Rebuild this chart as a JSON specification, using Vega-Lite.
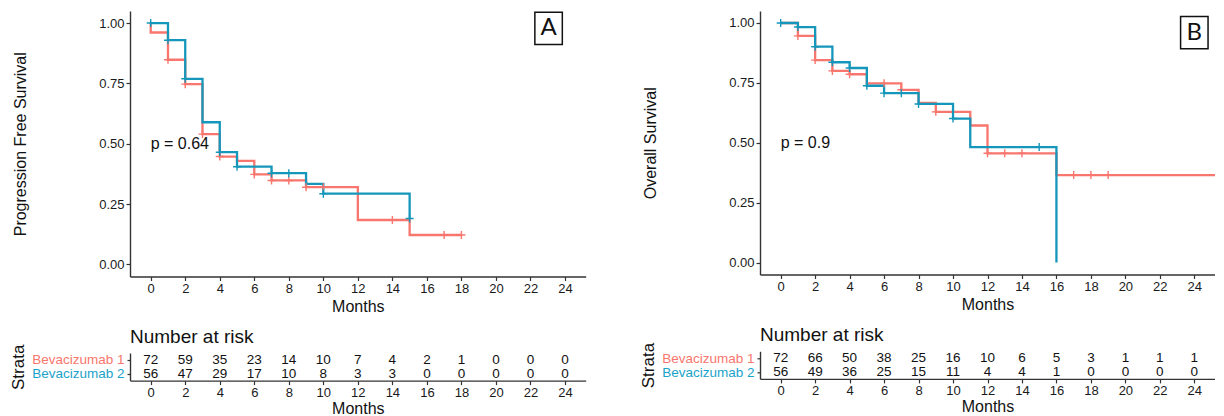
{
  "$schema": "https://vega.github.io/schema/vega-lite/v6.json",
  "padding": {"left": 9, "top": 9, "right": 0, "bottom": 0},
  "config": {
    "view": {"stroke": null},
    "font": "Liberation Sans",
    "axis": {"grid": false, "domainColor": "#333333", "domainWidth": 1.4, "tickColor": "#333333", "tickWidth": 1.2, "tickSize": 4, "labelColor": "#1a1a1a", "labelFontSize": 13, "labelFont": "Liberation Sans", "titleFont": "Liberation Sans", "titleColor": "#111111", "titleFontSize": 16, "titleFontWeight": "normal", "labelPadding": 2, "labelOverlap": false, "labelFlush": false},
    "title": {"font": "Liberation Sans", "fontWeight": "normal", "color": "#111111"}
  },
  "datasets": {
    "kmA": [
      {"g": "Bevacizumab 1", "i": 0, "t": 0, "s": 1.0},
      {"g": "Bevacizumab 1", "i": 1, "t": 0, "s": 0.961},
      {"g": "Bevacizumab 1", "i": 2, "t": 1, "s": 0.848},
      {"g": "Bevacizumab 1", "i": 3, "t": 2, "s": 0.747},
      {"g": "Bevacizumab 1", "i": 4, "t": 3, "s": 0.54},
      {"g": "Bevacizumab 1", "i": 5, "t": 4, "s": 0.447},
      {"g": "Bevacizumab 1", "i": 6, "t": 5, "s": 0.429},
      {"g": "Bevacizumab 1", "i": 7, "t": 6, "s": 0.373},
      {"g": "Bevacizumab 1", "i": 8, "t": 7, "s": 0.348},
      {"g": "Bevacizumab 1", "i": 9, "t": 9, "s": 0.32},
      {"g": "Bevacizumab 1", "i": 10, "t": 12, "s": 0.184},
      {"g": "Bevacizumab 1", "i": 11, "t": 15, "s": 0.122},
      {"g": "Bevacizumab 1", "i": 12, "t": 18, "s": 0.122},
      {"g": "Bevacizumab 2", "i": 0, "t": 0, "s": 1.0},
      {"g": "Bevacizumab 2", "i": 1, "t": 1, "s": 0.929},
      {"g": "Bevacizumab 2", "i": 2, "t": 2, "s": 0.769},
      {"g": "Bevacizumab 2", "i": 3, "t": 3, "s": 0.589},
      {"g": "Bevacizumab 2", "i": 4, "t": 4, "s": 0.465},
      {"g": "Bevacizumab 2", "i": 5, "t": 5, "s": 0.405},
      {"g": "Bevacizumab 2", "i": 6, "t": 7, "s": 0.378},
      {"g": "Bevacizumab 2", "i": 7, "t": 9, "s": 0.334},
      {"g": "Bevacizumab 2", "i": 8, "t": 10, "s": 0.293},
      {"g": "Bevacizumab 2", "i": 9, "t": 15, "s": 0.19}
    ],
    "censA": [
      {"g": "Bevacizumab 1", "t": 1, "s": 0.848},
      {"g": "Bevacizumab 1", "t": 2, "s": 0.747},
      {"g": "Bevacizumab 1", "t": 3, "s": 0.54},
      {"g": "Bevacizumab 1", "t": 4, "s": 0.447},
      {"g": "Bevacizumab 1", "t": 6, "s": 0.373},
      {"g": "Bevacizumab 1", "t": 7, "s": 0.348},
      {"g": "Bevacizumab 1", "t": 8, "s": 0.348},
      {"g": "Bevacizumab 1", "t": 9, "s": 0.32},
      {"g": "Bevacizumab 1", "t": 10, "s": 0.32},
      {"g": "Bevacizumab 1", "t": 14, "s": 0.184},
      {"g": "Bevacizumab 1", "t": 17, "s": 0.122},
      {"g": "Bevacizumab 1", "t": 18, "s": 0.122},
      {"g": "Bevacizumab 2", "t": 0, "s": 1.0},
      {"g": "Bevacizumab 2", "t": 1, "s": 0.929},
      {"g": "Bevacizumab 2", "t": 2, "s": 0.769},
      {"g": "Bevacizumab 2", "t": 4, "s": 0.465},
      {"g": "Bevacizumab 2", "t": 5, "s": 0.405},
      {"g": "Bevacizumab 2", "t": 7, "s": 0.378},
      {"g": "Bevacizumab 2", "t": 8, "s": 0.378},
      {"g": "Bevacizumab 2", "t": 10, "s": 0.293},
      {"g": "Bevacizumab 2", "t": 15, "s": 0.19}
    ],
    "kmB": [
      {"g": "Bevacizumab 1", "i": 0, "t": 0, "s": 1.0},
      {"g": "Bevacizumab 1", "i": 1, "t": 1, "s": 0.946},
      {"g": "Bevacizumab 1", "i": 2, "t": 2, "s": 0.845},
      {"g": "Bevacizumab 1", "i": 3, "t": 3, "s": 0.8},
      {"g": "Bevacizumab 1", "i": 4, "t": 4, "s": 0.786},
      {"g": "Bevacizumab 1", "i": 5, "t": 5, "s": 0.748},
      {"g": "Bevacizumab 1", "i": 6, "t": 7, "s": 0.721},
      {"g": "Bevacizumab 1", "i": 7, "t": 8, "s": 0.666},
      {"g": "Bevacizumab 1", "i": 8, "t": 9, "s": 0.629},
      {"g": "Bevacizumab 1", "i": 9, "t": 11, "s": 0.572},
      {"g": "Bevacizumab 1", "i": 10, "t": 12, "s": 0.456},
      {"g": "Bevacizumab 1", "i": 11, "t": 16, "s": 0.365},
      {"g": "Bevacizumab 1", "i": 12, "t": 26, "s": 0.365},
      {"g": "Bevacizumab 2", "i": 0, "t": 0, "s": 1.0},
      {"g": "Bevacizumab 2", "i": 1, "t": 1, "s": 0.983},
      {"g": "Bevacizumab 2", "i": 2, "t": 2, "s": 0.901},
      {"g": "Bevacizumab 2", "i": 3, "t": 3, "s": 0.836},
      {"g": "Bevacizumab 2", "i": 4, "t": 4, "s": 0.812},
      {"g": "Bevacizumab 2", "i": 5, "t": 5, "s": 0.738},
      {"g": "Bevacizumab 2", "i": 6, "t": 6, "s": 0.707},
      {"g": "Bevacizumab 2", "i": 7, "t": 8, "s": 0.662},
      {"g": "Bevacizumab 2", "i": 8, "t": 10, "s": 0.601},
      {"g": "Bevacizumab 2", "i": 9, "t": 11, "s": 0.482},
      {"g": "Bevacizumab 2", "i": 10, "t": 16, "s": 0.0}
    ],
    "censB": [
      {"g": "Bevacizumab 1", "t": 1, "s": 0.946},
      {"g": "Bevacizumab 1", "t": 2, "s": 0.845},
      {"g": "Bevacizumab 1", "t": 3, "s": 0.8},
      {"g": "Bevacizumab 1", "t": 4, "s": 0.786},
      {"g": "Bevacizumab 1", "t": 6, "s": 0.748},
      {"g": "Bevacizumab 1", "t": 7, "s": 0.721},
      {"g": "Bevacizumab 1", "t": 9, "s": 0.629},
      {"g": "Bevacizumab 1", "t": 12, "s": 0.456},
      {"g": "Bevacizumab 1", "t": 13, "s": 0.456},
      {"g": "Bevacizumab 1", "t": 14, "s": 0.456},
      {"g": "Bevacizumab 1", "t": 17, "s": 0.365},
      {"g": "Bevacizumab 1", "t": 18, "s": 0.365},
      {"g": "Bevacizumab 1", "t": 19, "s": 0.365},
      {"g": "Bevacizumab 2", "t": 0, "s": 1.0},
      {"g": "Bevacizumab 2", "t": 1, "s": 0.983},
      {"g": "Bevacizumab 2", "t": 2, "s": 0.901},
      {"g": "Bevacizumab 2", "t": 3, "s": 0.836},
      {"g": "Bevacizumab 2", "t": 4, "s": 0.812},
      {"g": "Bevacizumab 2", "t": 5, "s": 0.738},
      {"g": "Bevacizumab 2", "t": 6, "s": 0.707},
      {"g": "Bevacizumab 2", "t": 7, "s": 0.707},
      {"g": "Bevacizumab 2", "t": 8, "s": 0.662},
      {"g": "Bevacizumab 2", "t": 10, "s": 0.601},
      {"g": "Bevacizumab 2", "t": 15, "s": 0.482}
    ],
    "noteA": [{"t": 0, "s": 0.5, "label": "p = 0.64"}],
    "noteB": [{"t": 0, "s": 0.5, "label": "p = 0.9"}],
    "tagA": [{"t": 23.05, "s": 0.978, "label": "A"}],
    "tagB": [{"t": 24.0, "s": 0.96, "label": "B"}],
    "riskA": [
      {"g": "Bevacizumab 1", "t": 0, "n": 72}, {"g": "Bevacizumab 1", "t": 2, "n": 59}, {"g": "Bevacizumab 1", "t": 4, "n": 35}, {"g": "Bevacizumab 1", "t": 6, "n": 23}, {"g": "Bevacizumab 1", "t": 8, "n": 14}, {"g": "Bevacizumab 1", "t": 10, "n": 10}, {"g": "Bevacizumab 1", "t": 12, "n": 7}, {"g": "Bevacizumab 1", "t": 14, "n": 4}, {"g": "Bevacizumab 1", "t": 16, "n": 2}, {"g": "Bevacizumab 1", "t": 18, "n": 1}, {"g": "Bevacizumab 1", "t": 20, "n": 0}, {"g": "Bevacizumab 1", "t": 22, "n": 0}, {"g": "Bevacizumab 1", "t": 24, "n": 0},
      {"g": "Bevacizumab 2", "t": 0, "n": 56}, {"g": "Bevacizumab 2", "t": 2, "n": 47}, {"g": "Bevacizumab 2", "t": 4, "n": 29}, {"g": "Bevacizumab 2", "t": 6, "n": 17}, {"g": "Bevacizumab 2", "t": 8, "n": 10}, {"g": "Bevacizumab 2", "t": 10, "n": 8}, {"g": "Bevacizumab 2", "t": 12, "n": 3}, {"g": "Bevacizumab 2", "t": 14, "n": 3}, {"g": "Bevacizumab 2", "t": 16, "n": 0}, {"g": "Bevacizumab 2", "t": 18, "n": 0}, {"g": "Bevacizumab 2", "t": 20, "n": 0}, {"g": "Bevacizumab 2", "t": 22, "n": 0}, {"g": "Bevacizumab 2", "t": 24, "n": 0}
    ],
    "riskB": [
      {"g": "Bevacizumab 1", "t": 0, "n": 72}, {"g": "Bevacizumab 1", "t": 2, "n": 66}, {"g": "Bevacizumab 1", "t": 4, "n": 50}, {"g": "Bevacizumab 1", "t": 6, "n": 38}, {"g": "Bevacizumab 1", "t": 8, "n": 25}, {"g": "Bevacizumab 1", "t": 10, "n": 16}, {"g": "Bevacizumab 1", "t": 12, "n": 10}, {"g": "Bevacizumab 1", "t": 14, "n": 6}, {"g": "Bevacizumab 1", "t": 16, "n": 5}, {"g": "Bevacizumab 1", "t": 18, "n": 3}, {"g": "Bevacizumab 1", "t": 20, "n": 1}, {"g": "Bevacizumab 1", "t": 22, "n": 1}, {"g": "Bevacizumab 1", "t": 24, "n": 1},
      {"g": "Bevacizumab 2", "t": 0, "n": 56}, {"g": "Bevacizumab 2", "t": 2, "n": 49}, {"g": "Bevacizumab 2", "t": 4, "n": 36}, {"g": "Bevacizumab 2", "t": 6, "n": 25}, {"g": "Bevacizumab 2", "t": 8, "n": 15}, {"g": "Bevacizumab 2", "t": 10, "n": 11}, {"g": "Bevacizumab 2", "t": 12, "n": 4}, {"g": "Bevacizumab 2", "t": 14, "n": 4}, {"g": "Bevacizumab 2", "t": 16, "n": 1}, {"g": "Bevacizumab 2", "t": 18, "n": 0}, {"g": "Bevacizumab 2", "t": 20, "n": 0}, {"g": "Bevacizumab 2", "t": 22, "n": 0}, {"g": "Bevacizumab 2", "t": 24, "n": 0}
    ]
  },
  "spacing": 53,
  "hconcat": [
    {
      "spacing": 12,
      "vconcat": [
        {
          "width": 455.7,
          "height": 265.5,
          "encoding": {
            "x": {"field": "t", "type": "quantitative", "scale": {"domain": [-1.2, 25.2], "nice": false, "zero": false}, "axis": {"values": [0, 2, 4, 6, 8, 10, 12, 14, 16, 18, 20, 22, 24], "title": "Months", "titlePadding": 3}},
            "y": {"field": "s", "type": "quantitative", "scale": {"domain": [-0.05, 1.05], "nice": false, "zero": false}, "axis": {"values": [0, 0.25, 0.5, 0.75, 1], "format": ".2f", "title": "Progression Free Survival", "titlePadding": 70}}
          },
          "layer": [
            {"data": {"name": "kmA"}, "mark": {"type": "line", "interpolate": "step-after", "strokeWidth": 2.3, "clip": true}, "encoding": {"color": {"field": "g", "type": "nominal", "scale": {"domain": ["Bevacizumab 1", "Bevacizumab 2"], "range": ["#F8766D", "#1597BB"]}, "legend": null}, "order": {"field": "i", "type": "quantitative"}}},
            {"data": {"name": "censA"}, "mark": {"type": "point", "shape": "M-1,0H1M0,-1V1", "filled": false, "size": 64, "strokeWidth": 1.4, "opacity": 1}, "encoding": {"color": {"field": "g", "type": "nominal", "legend": null}}},
            {"data": {"name": "noteA"}, "mark": {"type": "text", "align": "left", "baseline": "middle", "fontSize": 16, "color": "#111111"}, "encoding": {"text": {"field": "label"}}},
            {"data": {"name": "tagA"}, "mark": {"type": "point", "shape": "M-0.85,-1H0.85V1H-0.85Z", "filled": false, "size": 1043, "strokeWidth": 1.5, "color": "#111111", "opacity": 1}},
            {"data": {"name": "tagA"}, "mark": {"type": "text", "align": "center", "baseline": "middle", "fontSize": 24, "font": "Lato", "color": "#111111"}, "encoding": {"text": {"field": "label"}}}
          ]
        },
        {
          "width": 455.7,
          "height": 27.6,
          "title": {"text": "Number at risk", "anchor": "start", "frame": "group", "fontSize": 19, "offset": -2.8},
          "data": {"name": "riskA"},
          "mark": {"type": "text", "fontSize": 13.5, "color": "#111111", "baseline": "middle"},
          "encoding": {
            "x": {"field": "t", "type": "quantitative", "scale": {"domain": [-1.2, 25.2], "nice": false, "zero": false}, "axis": {"values": [0, 2, 4, 6, 8, 10, 12, 14, 16, 18, 20, 22, 24], "title": "Months", "titlePadding": 1}},
            "y": {"field": "g", "type": "nominal", "sort": ["Bevacizumab 1", "Bevacizumab 2"], "scale": {"type": "point", "padding": 0.5}, "axis": {"title": "Strata", "titleFontSize": 17, "labelFontSize": 13.5, "tickSize": 3, "labelPadding": 3, "titlePadding": 4, "labelColor": {"condition": {"test": "datum.value === 'Bevacizumab 1'", "value": "#F8766D"}, "value": "#1AA3C9"}}},
            "text": {"field": "n", "type": "quantitative"}
          }
        }
      ]
    },
    {
      "spacing": 12.3,
      "vconcat": [
        {
          "width": 455,
          "height": 263.5,
          "encoding": {
            "x": {"field": "t", "type": "quantitative", "scale": {"domain": [-1.2, 25.2], "nice": false, "zero": false}, "axis": {"values": [0, 2, 4, 6, 8, 10, 12, 14, 16, 18, 20, 22, 24], "title": "Months", "titlePadding": 3}},
            "y": {"field": "s", "type": "quantitative", "scale": {"domain": [-0.05, 1.05], "nice": false, "zero": false}, "axis": {"values": [0, 0.25, 0.5, 0.75, 1], "format": ".2f", "title": "Overall Survival", "titlePadding": 70}}
          },
          "layer": [
            {"data": {"name": "kmB"}, "mark": {"type": "line", "interpolate": "step-after", "strokeWidth": 2.3, "clip": true}, "encoding": {"color": {"field": "g", "type": "nominal", "scale": {"domain": ["Bevacizumab 1", "Bevacizumab 2"], "range": ["#F8766D", "#1597BB"]}, "legend": null}, "order": {"field": "i", "type": "quantitative"}}},
            {"data": {"name": "censB"}, "mark": {"type": "point", "shape": "M-1,0H1M0,-1V1", "filled": false, "size": 64, "strokeWidth": 1.4, "opacity": 1}, "encoding": {"color": {"field": "g", "type": "nominal", "legend": null}}},
            {"data": {"name": "noteB"}, "mark": {"type": "text", "align": "left", "baseline": "middle", "fontSize": 16, "color": "#111111"}, "encoding": {"text": {"field": "label"}}},
            {"data": {"name": "tagB"}, "mark": {"type": "point", "shape": "M-0.85,-1H0.85V1H-0.85Z", "filled": false, "size": 1043, "strokeWidth": 1.5, "color": "#111111", "opacity": 1}},
            {"data": {"name": "tagB"}, "mark": {"type": "text", "align": "center", "baseline": "middle", "fontSize": 24, "font": "Lato", "color": "#111111"}, "encoding": {"text": {"field": "label"}}}
          ]
        },
        {
          "width": 455,
          "height": 27.6,
          "title": {"text": "Number at risk", "anchor": "start", "frame": "group", "fontSize": 19, "offset": -2.8},
          "data": {"name": "riskB"},
          "mark": {"type": "text", "fontSize": 13.5, "color": "#111111", "baseline": "middle"},
          "encoding": {
            "x": {"field": "t", "type": "quantitative", "scale": {"domain": [-1.2, 25.2], "nice": false, "zero": false}, "axis": {"values": [0, 2, 4, 6, 8, 10, 12, 14, 16, 18, 20, 22, 24], "title": "Months", "titlePadding": 1}},
            "y": {"field": "g", "type": "nominal", "sort": ["Bevacizumab 1", "Bevacizumab 2"], "scale": {"type": "point", "padding": 0.5}, "axis": {"title": "Strata", "titleFontSize": 17, "labelFontSize": 13.5, "tickSize": 3, "labelPadding": 3, "titlePadding": 4, "labelColor": {"condition": {"test": "datum.value === 'Bevacizumab 1'", "value": "#F8766D"}, "value": "#1AA3C9"}}},
            "text": {"field": "n", "type": "quantitative"}
          }
        }
      ]
    }
  ]
}
